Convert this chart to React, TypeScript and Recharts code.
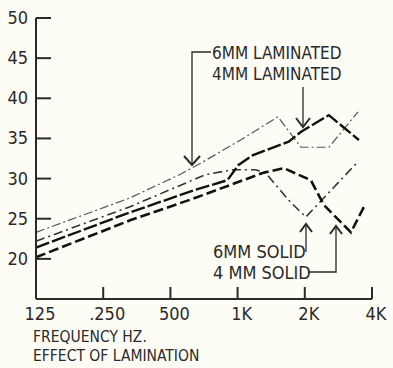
import { LineChart, Line, XAxis, YAxis } from 'recharts'

// frequency (Hz) and level (dB)
const freq6Lam = [125, 330, 470, 560, 682, 1031, 1516, 1919, 2565, 3460]
const db6Lam = [23.3, 27.6, 29.6, 30.6, 31.9, 34.8, 37.7, 33.9, 33.9, 38.3]

const freq4Lam = [125, 330, 648, 900, 1010, 1166, 1694, 1919, 2563, 3496]
const db4Lam = [21.4, 25.8, 28.6, 29.8, 31.7, 32.9, 34.6, 35.8, 37.9, 34.8]

const freq6Solid = [125, 330, 720, 950, 1205, 1336, 1694, 2020, 3460]
const db6Solid = [22.2, 26.5, 30.5, 31.1, 31.1, 30.7, 27.3, 25.2, 32.1]

const freq4Solid = [125, 330, 648, 1295, 1609, 2128, 2436, 3219, 3683]
const db4Solid = [20.2, 24.8, 27.6, 30.7, 31.3, 29.8, 26.7, 23.3, 26.5]

const xTicks = [125, 250, 500, 1000, 2000, 4000]
const xTickLabels = ['125', '.250', '500', '1K', '2K', '4K']
const yTicks = [15, 20, 25, 30, 35, 40, 45, 50]

const toRows = (f: number[], v: number[]) => f.map((x, i) => ({ f: x, db: v[i] }))

const INK = '#2a2a2a'
const FONT = "'Liberation Sans Narrow', 'DejaVu Sans Condensed', sans-serif"
const BG = '#fdfdf6'

function YTick({ x, y, payload }: any) {
  if (payload.value === 15) return null
  const axisX = x + 8
  return (
    <g>
      <line x1={axisX} x2={axisX + 15} y1={y} y2={y} stroke={INK} strokeWidth={2} />
      <text x={x} y={y + 6} textAnchor="end" fontSize={18} fontFamily={FONT} fill={INK}>
        {payload.value}
      </text>
    </g>
  )
}

function XTick({ x, y, payload }: any) {
  const i = xTicks.indexOf(payload.value)
  return (
    <g>
      {i > 0 && <line x1={x} x2={x} y1={y - 12} y2={y} stroke={INK} strokeWidth={2} />}
      <text x={x + 4} y={y + 21} textAnchor="middle" fontSize={18} fontFamily={FONT} fill={INK}>
        {xTickLabels[i]}
      </text>
    </g>
  )
}

function Annotations() {
  const s = { stroke: INK, strokeWidth: 1.3, fill: 'none' }
  const t = { fontSize: 17, fontFamily: FONT, fill: INK }
  return (
    <svg width={393} height={368} style={{ position: 'absolute', left: 0, top: 0, pointerEvents: 'none' }}>
      <text x={212} y={59} {...t}>6MM LAMINATED</text>
      <text x={212} y={80} {...t}>4MM LAMINATED</text>
      <polyline points="211,52 192,52 192,165" {...s} />
      <polyline points="184,156 192,165 200,156" {...s} strokeWidth={2} />
      <line x1={303} y1={87} x2={303} y2={127} {...s} />
      <polyline points="296,118 303,127 310,118" {...s} strokeWidth={2} />

      <text x={213} y={258} {...t} fontSize={18}>6MM SOLID</text>
      <text x={213} y={279} {...t} fontSize={18}>4 MM SOLID</text>
      <line x1={306} y1={252} x2={306} y2={224} {...s} />
      <polyline points="300,232 306,224 312,232" {...s} strokeWidth={2} />
      <polyline points="308,272 336,272 336,226" {...s} />
      <polyline points="330,234 336,226 342,234" {...s} strokeWidth={2} />

      <text x={33} y={342} {...t} fontSize={15.5}>FREQUENCY HZ.</text>
      <text x={33} y={361} {...t} fontSize={15.5}>EFFECT OF LAMINATION</text>
    </svg>
  )
}

export default function App() {
  return (
    <div style={{ position: 'absolute', left: 0, top: 0, width: 393, height: 368, background: BG, overflow: 'hidden' }}>
      <LineChart width={393} height={368} margin={{ top: 18, right: 21, left: 0, bottom: 0 }}>
        <XAxis
          type="number"
          dataKey="f"
          scale="log"
          domain={[125, 4000]}
          ticks={xTicks}
          height={69}
          axisLine={{ stroke: INK, strokeWidth: 2 }}
          tickLine={false}
          tickSize={0}
          tickMargin={0}
          tick={<XTick />}
          allowDuplicatedCategory={false}
        />
        <YAxis
          type="number"
          domain={[15, 50]}
          ticks={yTicks}
          width={36}
          axisLine={{ stroke: INK, strokeWidth: 2 }}
          tickLine={false}
          tickSize={0}
          tickMargin={8}
          tick={<YTick />}
        />
        <Line data={toRows(freq6Lam, db6Lam)} dataKey="db" stroke="#555" strokeWidth={1.2}
          strokeDasharray="9 3 2 3" dot={false} isAnimationActive={false} />
        <Line data={toRows(freq6Solid, db6Solid)} dataKey="db" stroke="#333" strokeWidth={1.6}
          strokeDasharray="9 4 2 4" dot={false} isAnimationActive={false} />
        <Line data={toRows(freq4Lam, db4Lam)} dataKey="db" stroke="#111" strokeWidth={2.4}
          strokeDasharray="14 3" dot={false} isAnimationActive={false} />
        <Line data={toRows(freq4Solid, db4Solid)} dataKey="db" stroke="#111" strokeWidth={2.6}
          strokeDasharray="10 4" dot={false} isAnimationActive={false} />
      </LineChart>
      <Annotations />
    </div>
  )
}
